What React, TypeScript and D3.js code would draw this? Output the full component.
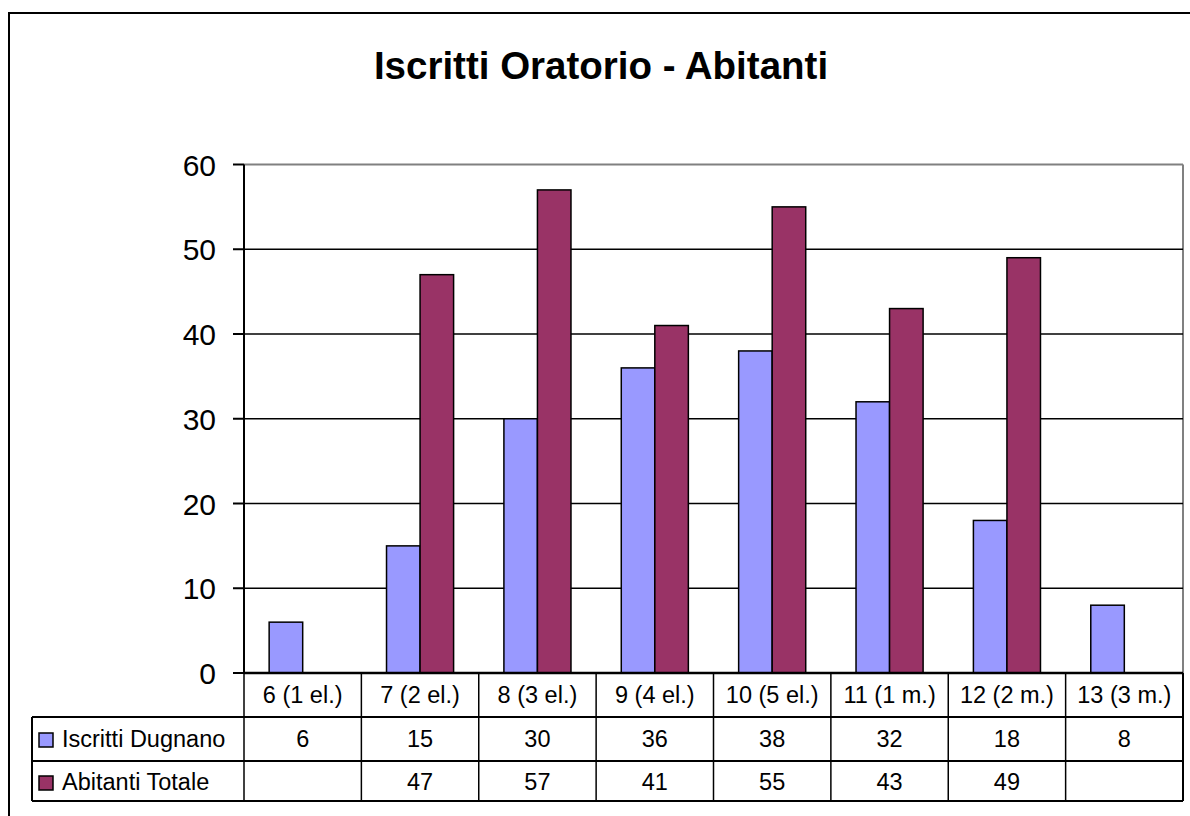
import React from "react";
import * as d3 from "d3";

const categories = ["6 (1 el.)", "7 (2 el.)", "8 (3 el.)", "9 (4 el.)", "10 (5 el.)", "11 (1 m.)", "12 (2 m.)", "13 (3 m.)"];
const iscrittiDugnano: (number | null)[] = [6, 15, 30, 36, 38, 32, 18, 8];
const abitantiTotale: (number | null)[] = [null, 47, 57, 41, 55, 43, 49, null];
const yTicks = [0, 10, 20, 30, 40, 50, 60];

const seriesNames = ["Iscritti Dugnano", "Abitanti Totale"];
const seriesColors = ["#9999FF", "#993366"];
const seriesValues = [iscrittiDugnano, abitantiTotale];

const W = 1190;
const H = 816;
const plotLeft = 244;
const plotRight = 1183;
const plotTop = 164.5;
const plotBottom = 673;
const tableLeft = 32;
const rowLines = [673, 717, 761, 801];
const font = "'Liberation Sans', Arial, sans-serif";
const tableFont = 23.5;

export default function App() {
  const x = d3.scaleBand<string>().domain(categories).range([plotLeft, plotRight]).paddingInner(0).paddingOuter(0);
  const y = d3.scaleLinear().domain([0, 60]).range([plotBottom, plotTop]);
  const step = x.step();
  const bw = step / 3.5;
  const groupOffset = (step - 2 * bw) / 2;

  return (
    <svg width={W} height={H} style={{ position: "absolute", left: 0, top: 0, background: "#fff" }} fontFamily={font}>
      <rect x={0} y={0} width={W} height={H} fill="#fff" />
      {/* chart frame */}
      <rect x={9} y={13} width={1300} height={900} fill="none" stroke="#000" strokeWidth={2} />

      <text x={601} y={79} textAnchor="middle" fontSize={38.5} fontWeight="bold" fill="#000">
        Iscritti Oratorio - Abitanti
      </text>

      {/* plot area border */}
      <line x1={plotLeft} x2={plotRight} y1={y(60)} y2={y(60)} stroke="#808080" strokeWidth={2} />
      <line x1={plotRight} x2={plotRight} y1={y(60)} y2={plotBottom} stroke="#808080" strokeWidth={2} />

      {/* gridlines */}
      {yTicks.filter((t) => t > 0 && t < 60).map((t) => (
        <line key={t} x1={plotLeft} x2={plotRight} y1={y(t)} y2={y(t)} stroke="#000" strokeWidth={1.5} />
      ))}

      {/* bars */}
      {seriesValues.map((vals, si) =>
        vals.map((v, ci) =>
          v == null ? null : (
            <rect
              key={`${si}-${ci}`}
              x={(x(categories[ci]) as number) + groupOffset + si * bw}
              y={y(v)}
              width={bw}
              height={plotBottom - y(v)}
              fill={seriesColors[si]}
              stroke="#000"
              strokeWidth={1.5}
            />
          )
        )
      )}

      {/* y axis */}
      <line x1={plotLeft} x2={plotLeft} y1={y(60)} y2={plotBottom} stroke="#000" strokeWidth={2} />
      {yTicks.map((t) => (
        <g key={t}>
          <line x1={233} x2={plotLeft} y1={y(t)} y2={y(t)} stroke="#000" strokeWidth={2} />
          <text x={216} y={y(t) + 11} textAnchor="end" fontSize={30} fill="#000">
            {t}
          </text>
        </g>
      ))}

      {/* data table */}
      <line x1={plotLeft} x2={plotRight} y1={rowLines[0]} y2={rowLines[0]} stroke="#000" strokeWidth={2.5} />
      {rowLines.slice(1).map((ry) => (
        <line key={ry} x1={tableLeft} x2={plotRight} y1={ry} y2={ry} stroke="#000" strokeWidth={2} />
      ))}
      <line x1={tableLeft} x2={tableLeft} y1={rowLines[1]} y2={rowLines[3]} stroke="#000" strokeWidth={2} />
      {categories.map((c) => (
        <line
          key={c}
          x1={x(c) as number}
          x2={x(c) as number}
          y1={rowLines[0]}
          y2={rowLines[3]}
          stroke="#000"
          strokeWidth={1.5}
        />
      ))}
      <line x1={plotRight} x2={plotRight} y1={rowLines[0]} y2={rowLines[3]} stroke="#000" strokeWidth={2} />

      {categories.map((c) => (
        <text key={c} x={(x(c) as number) + step / 2} y={703} textAnchor="middle" fontSize={tableFont} fill="#000">
          {c}
        </text>
      ))}

      {seriesNames.map((name, si) => {
        const rowY = [747, 790][si];
        return (
          <g key={name}>
            <rect x={39} y={rowY - 14} width={14} height={14} fill={seriesColors[si]} stroke="#000" strokeWidth={1.5} />
            <text x={62} y={rowY} fontSize={tableFont} fill="#000">
              {name}
            </text>
            {seriesValues[si].map((v, ci) =>
              v == null ? null : (
                <text
                  key={ci}
                  x={(x(categories[ci]) as number) + step / 2}
                  y={rowY}
                  textAnchor="middle"
                  fontSize={tableFont}
                  fill="#000"
                >
                  {v}
                </text>
              )
            )}
          </g>
        );
      })}
    </svg>
  );
}
